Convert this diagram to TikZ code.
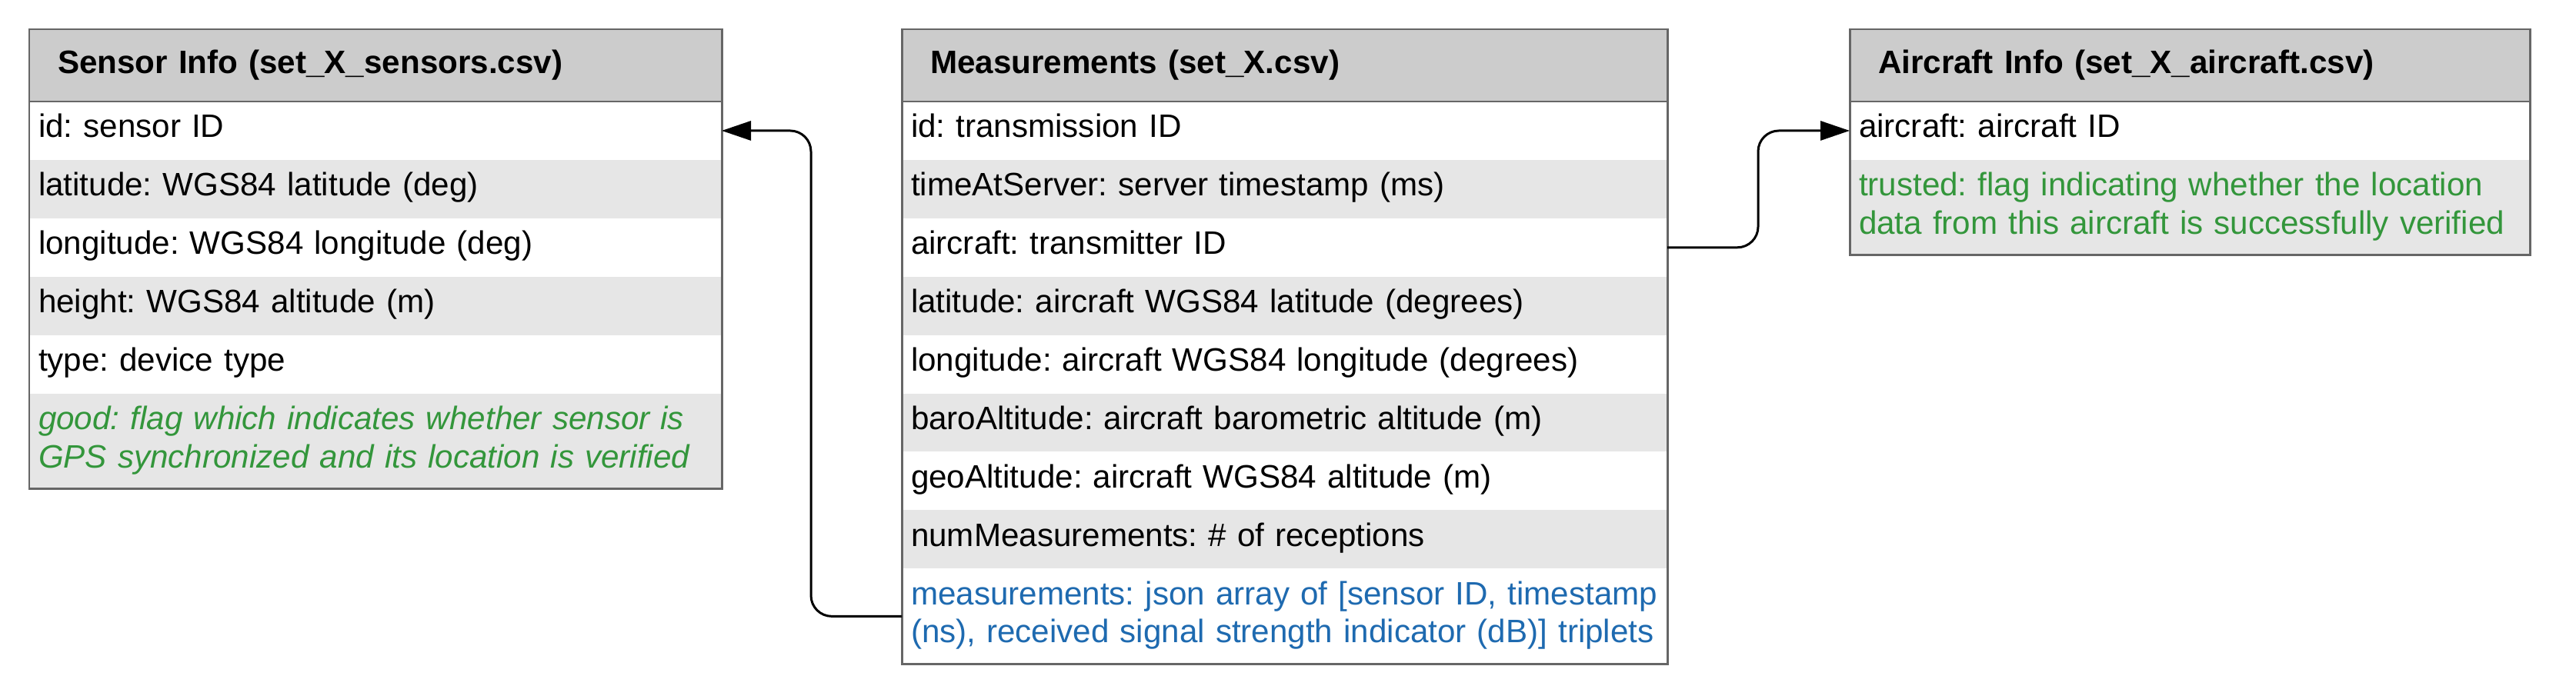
\documentclass[tikz,border=0pt]{standalone}
\usepackage{fontspec}
\setmainfont{Liberation Sans}
\usepackage{tikz}
\usetikzlibrary{positioning,arrows.meta}
\definecolor{headgray}{HTML}{CCCCCC}
\definecolor{rowgray}{HTML}{E6E6E6}
\definecolor{framegray}{HTML}{666666}
\definecolor{flaggreen}{RGB}{51,150,59}
\definecolor{listblue}{RGB}{30,106,176}
\newcommand{\tabfont}{\fontsize{12}{14.2}\selectfont}
\frenchspacing
\hyphenpenalty=10000
\tikzstyle{head} = [fill=headgray, font=\tabfont\bfseries, inner xsep=3.7mm, inner ysep=0pt, minimum height=9.4mm, outer sep=0pt, align=left]
\tikzstyle{field} = [font=\tabfont, inner xsep=1.2mm, inner ysep=0pt, text height=13.3pt, text depth=8.3pt, outer sep=0pt, align=left]
\tikzstyle{twoline} = [text depth=22pt]
\tikzstyle{plain} = [field, fill=white]
\tikzstyle{shaded} = [field, fill=rowgray]
\tikzstyle{frame} = [draw=framegray, line width=0.85pt]
\tikzstyle{link} = [draw, line width=0.85pt, rounded corners=2.7mm, -{Triangle[length=3.8mm,width=2.5mm]}]

\begin{document}
\begin{tikzpicture}
    \useasboundingbox (0,0) rectangle (33.48,-8.92);
    % sensor table
    \node[head, text width=82.6mm, anchor=north west] (sinfo) at (0.38,-0.38) {Sensor Info (set\_X\_sensors.csv)};
    \node[plain, text width=87.6mm, below=0pt of sinfo] (sid) {id: sensor ID};
    \node[shaded, text width=87.6mm, below=0pt of sid] (slat) {latitude: WGS84 latitude (deg)};
    \node[plain, text width=87.6mm, below=0pt of slat] (slon) {longitude: WGS84 longitude (deg)};
    \node[shaded, text width=87.6mm, below=0pt of slon] (shgt) {height: WGS84 altitude (m)};
    \node[plain, text width=87.6mm, below=0pt of shgt] (stype) {type: device type};
    \node[shaded, twoline, text width=87.6mm, below=0pt of stype, text=flaggreen, font=\tabfont\itshape] (sgood) {good: flag which indicates whether sensor is\\GPS synchronized and its location is verified};
    \draw[frame] (sinfo.north west) rectangle (sgood.south east);
    \draw[frame] (sinfo.south west) -- (sinfo.south east);

    % measurements table
    \node[head, text width=92.1mm, anchor=north west] (meas) at (11.72,-0.38) {Measurements (set\_X.csv)};
    \node[plain, text width=97.1mm, below=0pt of meas] (mid) {id: transmission ID};
    \node[shaded, text width=97.1mm, below=0pt of mid] (mtime) {timeAtServer: server timestamp (ms)};
    \node[plain, text width=97.1mm, below=0pt of mtime] (mac) {aircraft: transmitter ID};
    \node[shaded, text width=97.1mm, below=0pt of mac] (mlat) {latitude: aircraft WGS84 latitude (degrees)};
    \node[plain, text width=97.1mm, below=0pt of mlat] (mlon) {longitude: aircraft WGS84 longitude (degrees)};
    \node[shaded, text width=97.1mm, below=0pt of mlon] (mbaro) {baroAltitude: aircraft barometric altitude (m)};
    \node[plain, text width=97.1mm, below=0pt of mbaro] (mgeo) {geoAltitude: aircraft WGS84 altitude (m)};
    \node[shaded, text width=97.1mm, below=0pt of mgeo] (mnum) {numMeasurements: \# of receptions};
    \node[plain, twoline, text width=97.1mm, below=0pt of mnum, text=listblue] (mlist) {measurements: json array of [sensor ID, timestamp\\(ns), received signal strength indicator (dB)] triplets};
    \draw[frame] (meas.north west) rectangle (mlist.south east);
    \draw[frame] (meas.south west) -- (meas.south east);

    % aircraft table
    \node[head, text width=81mm, anchor=north west] (ainfo) at (24.04,-0.38) {Aircraft Info (set\_X\_aircraft.csv)};
    \node[plain, text width=86mm, below=0pt of ainfo] (aac) {aircraft: aircraft ID};
    \node[shaded, twoline, text width=86mm, below=0pt of aac, text=flaggreen] (atrust) {trusted: flag indicating whether the location\\data from this aircraft is successfully verified};
    \draw[frame] (ainfo.north west) rectangle (atrust.south east);
    \draw[frame] (ainfo.south west) -- (ainfo.south east);

    % links
    \draw[link] (mlist.west) -- ++(-1.18,0) |- (sid.east);
    \draw[link] (mac.east) -- ++(1.18,0) |- (aac.west);
\end{tikzpicture}
\end{document}
